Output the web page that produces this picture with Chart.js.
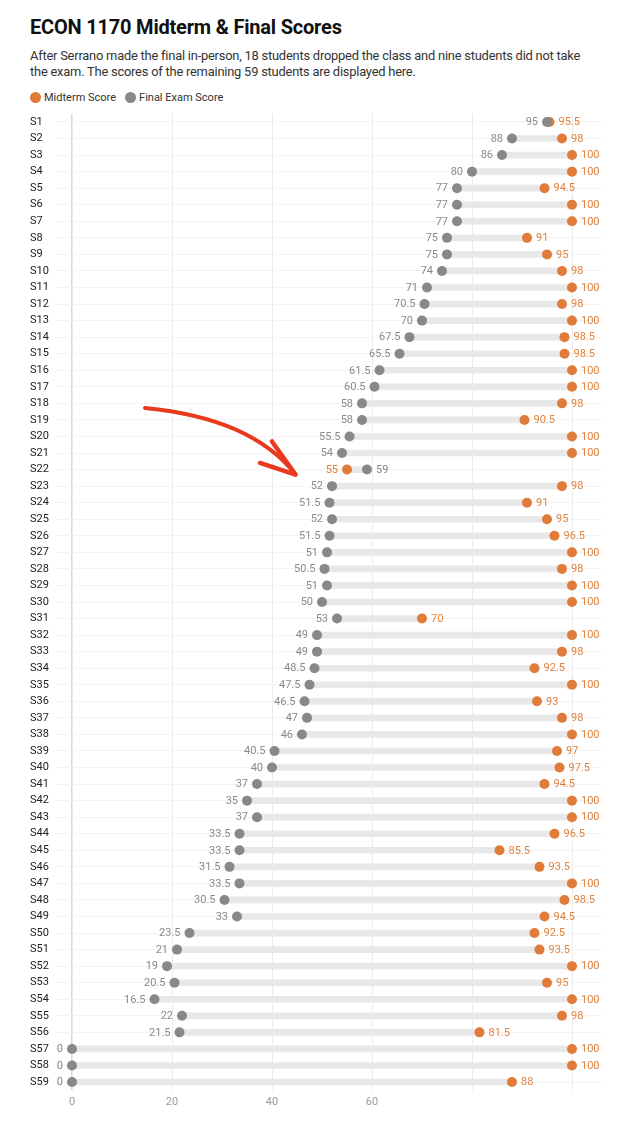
<!DOCTYPE html>
<html>
<head>
<meta charset="utf-8">
<script src="https://cdn.jsdelivr.net/npm/chart.js@4/dist/chart.umd.min.js"></script>
<style>
  html, body { margin: 0; padding: 0; background: #fff; }
  body { width: 621px; height: 1121px; position: relative; overflow: hidden; font-family: Roboto, "Noto Sans", sans-serif; }
  #title { position: absolute; left: 30px; top: 15px; font-size: 20px; font-weight: bold; color: #111; letter-spacing: -0.2px; }
  #sub { position: absolute; left: 30px; top: 48px; width: 562px; font-size: 12.9px; line-height: 16px; color: #333; letter-spacing: -0.22px; }
  #legend { position: absolute; left: 30px; top: 91px; font-size: 11px; color: #333; display: flex; align-items: center; }
  .dot { display: inline-block; width: 11px; height: 11px; border-radius: 50%; margin-right: 3px; }
  .item { display: flex; align-items: center; margin-right: 9px; }
  #wrap { position: absolute; left: 0; top: 105px; width: 621px; height: 1016px; }
</style>
</head>
<body>
<div id="title">ECON 1170 Midterm &amp; Final Scores</div>
<div id="sub">After Serrano made the final in-person, 18 students dropped the class and nine students did not take the exam. The scores of the remaining 59 students are displayed here.</div>
<div id="legend">
  <span class="item"><span class="dot" style="background:#e07b39"></span>Midterm Score</span>
  <span class="item"><span class="dot" style="background:#888"></span>Final Exam Score</span>
</div>
<div id="wrap"><canvas id="c"></canvas></div>
<script>
const students = Array.from({length: 59}, (_, i) => 'S' + (i + 1));
const midterm = [95.5,98,100,100,94.5,100,100,91,95,98,
                 100,98,100,98.5,98.5,100,100,98,90.5,100,
                 100,55,98,91,95,96.5,100,98,100,100,
                 70,100,98,92.5,100,93,98,100,97,97.5,
                 94.5,100,100,96.5,85.5,93.5,100,98.5,94.5,92.5,
                 93.5,100,95,100,98,81.5,100,100,88];
const finalExam = [95,88,86,80,77,77,77,75,75,74,
                   71,70.5,70,67.5,65.5,61.5,60.5,58,58,55.5,
                   54,59,52,51.5,52,51.5,51,50.5,51,50,
                   53,49,49,48.5,47.5,46.5,47,46,40.5,40,
                   37,35,37,33.5,33.5,31.5,33.5,30.5,33,23.5,
                   21,19,20.5,16.5,22,21.5,0,0,0];
const xTicks = [0, 20, 40, 60, 80, 100];
const xTickLabels = ['0', '20', '40', '60', '', ''];

const ORANGE = '#e07b39';
const GRAY = '#888888';

const labelPlugin = {
  id: 'valueLabels',
  afterDatasetsDraw(chart) {
    const ctx = chart.ctx;
    const xs = chart.scales.x, ys = chart.scales.y;
    ctx.save();
    ctx.font = '11px Roboto, sans-serif';
    ctx.textBaseline = 'middle';
    students.forEach((s, i) => {
      const y = ys.getPixelForValue(i);
      const m = midterm[i], f = finalExam[i];
      const xm = xs.getPixelForValue(m), xf = xs.getPixelForValue(f);
      const lowIsFinal = f <= m;
      const items = [
        {v: f, x: xf, color: '#8a8a8a', left: lowIsFinal},
        {v: m, x: xm, color: '#e0823f', left: !lowIsFinal}
      ];
      items.forEach(it => {
        ctx.fillStyle = it.color;
        if (it.left) { ctx.textAlign = 'right'; ctx.fillText(String(it.v), it.x - 9, y + 0.5); }
        else { ctx.textAlign = 'left'; ctx.fillText(String(it.v), it.x + 9, y + 0.5); }
      });
    });
    ctx.restore();
  },
  afterDraw(chart) {
    // hand-drawn red arrow pointing at S22
    const xs = chart.scales.x, ys = chart.scales.y;
    const P = (v, r) => [xs.getPixelForValue(v), ys.getPixelForValue(r)];
    const ctx = chart.ctx;
    const s = P(14.6, 17.28), c = P(36, 17.9), t = P(44.7, 21.3);
    const a1 = P(40.0, 19.3), a2 = P(37.6, 20.6);
    ctx.save();
    ctx.strokeStyle = '#ea3a1e';
    ctx.lineCap = 'round';
    ctx.lineJoin = 'round';
    ctx.lineWidth = 4;
    ctx.beginPath();
    ctx.moveTo(s[0], s[1]);
    ctx.quadraticCurveTo(c[0], c[1], t[0], t[1]);
    ctx.stroke();
    ctx.lineWidth = 4.5;
    ctx.beginPath();
    ctx.moveTo(a1[0], a1[1]);
    ctx.lineTo(t[0], t[1]);
    ctx.lineTo(a2[0], a2[1]);
    ctx.stroke();
    ctx.restore();
  }
};

new Chart(document.getElementById('c'), {
  data: {
    labels: students,
    datasets: [
      {
        type: 'line', label: 'Final Exam Score', data: finalExam,
        showLine: false, pointRadius: 5, pointHoverRadius: 5,
        pointBackgroundColor: GRAY, pointBorderWidth: 0, borderColor: GRAY, order: 1
      },
      {
        type: 'line', label: 'Midterm Score', data: midterm,
        showLine: false, pointRadius: 5, pointHoverRadius: 5,
        pointBackgroundColor: ORANGE, pointBorderWidth: 0, borderColor: ORANGE, order: 2
      },
      {
        type: 'bar', label: 'range', data: students.map((s, i) => [finalExam[i], midterm[i]]),
        backgroundColor: '#e8e8e8', barThickness: 6, borderSkipped: false, order: 3
      }
    ]
  },
  options: {
    indexAxis: 'y',
    responsive: true,
    maintainAspectRatio: false,
    animation: false,
    layout: { padding: { left: 30, right: 19, top: 8.7, bottom: 10.7 } },
    plugins: { legend: { display: false }, tooltip: { enabled: false } },
    scales: {
      x: {
        type: 'linear', min: -3.2, max: 106,
        afterBuildTicks: (sc) => { sc.ticks = xTicks.map(v => ({value: v})); },
        afterFit: (sc) => { sc.height = 20; },
        grid: {
          drawTicks: false,
          color: (ctx) => ctx.tick && ctx.tick.value === 0 ? '#d8d8d8' : '#ececec',
          lineWidth: (ctx) => ctx.tick && ctx.tick.value === 0 ? 1.6 : 1
        },
        border: { display: false },
        ticks: {
          padding: 5, color: '#999', font: { family: 'Roboto', size: 11 },
          callback: (v) => { const k = xTicks.indexOf(v); return k >= 0 ? xTickLabels[k] : ''; }
        }
      },
      y: {
        type: 'category',
        offset: true,
        afterFit: (sc) => { sc.width = 26; },
        grid: { offset: false, drawTicks: false, color: '#f3f3f3', lineWidth: 1 },
        border: { display: false },
        ticks: { crossAlign: 'far', padding: 0, color: '#222', font: { family: 'Roboto', size: 11 }, autoSkip: false }
      }
    }
  },
  plugins: [labelPlugin]
});
</script>
</body>
</html>
